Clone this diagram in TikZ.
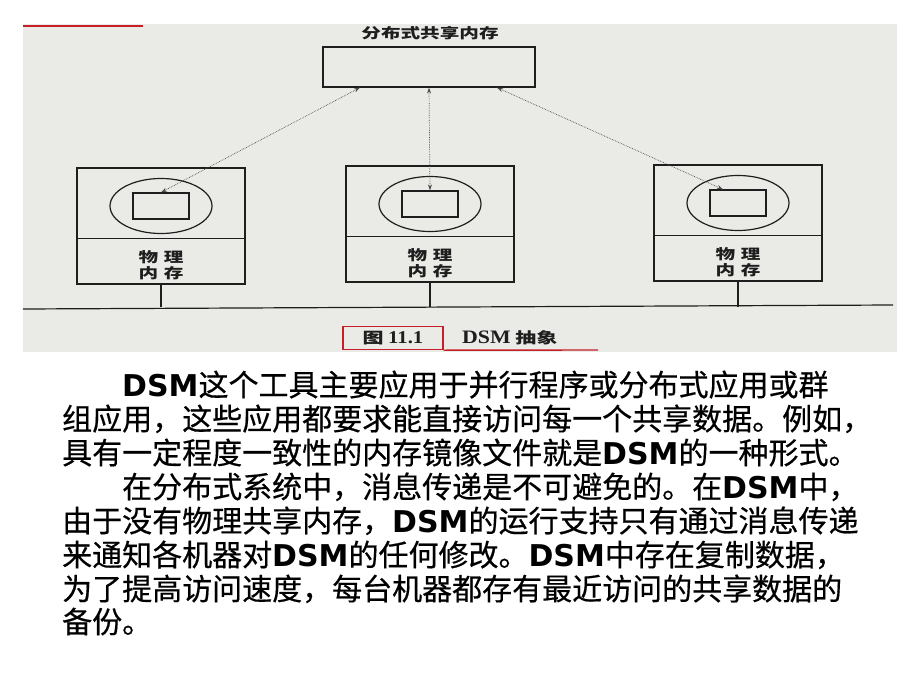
\documentclass[tikz,border=0pt]{standalone}
\usepackage{fontspec}
\setmainfont{Noto Sans CJK SC}
\newfontfamily\bodyfont{Noto Sans CJK SC}[FakeBold=0.5]
\newfontfamily\figfont{Noto Sans CJK SC}[FakeStretch=1.4]
\newfontfamily\figserif{Liberation Serif}[FakeStretch=1.15]
\newfontfamily\dsmfont{DejaVu Sans}
\usetikzlibrary{arrows.meta,shapes.geometric,positioning}
\definecolor{scan}{RGB}{234,235,231}
\definecolor{ink}{RGB}{30,30,30}
\definecolor{redpen}{RGB}{200,30,40}
\newcommand{\dsmword}{{\dsmfont\bfseries DSM}}
\tikzset{
  machine/.style={draw=ink, line width=1.2pt, minimum width=168pt, minimum height=116pt, inner sep=0pt},
  ring/.style={draw=ink, line width=1.2pt, ellipse, minimum width=102pt, minimum height=55pt, inner sep=0pt},
  slot/.style={draw=ink, line width=1.2pt, minimum width=56pt, minimum height=26pt, inner sep=0pt},
  link/.style={densely dotted, gray!60!black, line width=0.7pt,
               {Stealth[length=6pt,width=4pt]}-{Stealth[length=6pt,width=4pt]}},
  memtext/.style={font=\figfont\bfseries\fontsize{14}{15.5}\selectfont, text=ink, align=center, inner sep=0pt},
  bodyline/.style={anchor=base west, inner sep=0pt, font=\bodyfont\fontsize{30}{30}\selectfont},
}
\begin{document}
\begin{tikzpicture}[x=1pt, y=-1pt]
  \useasboundingbox (0,0) rectangle (920,690);
  \fill[white] (0,0) rectangle (920,690);
  % scanned figure
  \fill[scan] (23,24) rectangle (897,352);
  \draw[redpen, line width=1.4pt] (23,26) -- (143,26);
  \node[memtext, font=\figfont\bfseries\fontsize{14}{15}\selectfont] (title) at (430,33) {分布式共享内存};
  \node[draw=ink, line width=1.2pt, minimum width=212pt, minimum height=40pt] (dsm) at (429,67) {};
  % machines
  \foreach \mx/\my/\n in {161/168/a, 430/166/b, 738/165/c} {
    \node[machine] (box\n) at (\mx,\my+58) {};
    \draw[ink, line width=1.2pt] ([yshift=-71pt]box\n.north west) -- ([yshift=-71pt]box\n.north east);
    \node[ring] (ring\n) at (\mx,\my+38) {};
    \node[slot] (slot\n) at (ring\n) {};
    \node[memtext] (mem\n) at (\mx,\my+97) {物\hspace{0.4em}理\\内\hspace{0.4em}存};
    \draw[ink, line width=1.2pt] (box\n.south) -- (box\n.south |- 0,307);
  }
  \draw[ink, line width=1.2pt] (23,309) -- (893,305);
  % links to the shared memory
  \draw[link] ([xshift=-69pt]dsm.south) -- (slota.north);
  \draw[link] (dsm.south) -- (slotb.north);
  \draw[link] ([xshift=68pt]dsm.south) -- ([xshift=-15pt]slotc.north);
  % caption
  \node[memtext, draw=redpen, line width=1.4pt, minimum width=100pt, minimum height=23pt,
        font=\figfont\bfseries\fontsize{15}{15}\selectfont] (figno) at (393,338)
        {图\hspace{0.3em}{\figserif\bfseries\fontsize{18}{18}\selectfont 11.1}};
  \node[memtext, anchor=west, font=\figfont\bfseries\fontsize{15}{15}\selectfont] (figname) at (462,338)
        {{\figserif\bfseries\fontsize{19}{19}\selectfont DSM}\hspace{0.3em}抽象};
  \draw[redpen, line width=1.4pt] (figno.south east) -- (598,350);
  % text
  \node[bodyline] (line1) at (122,396) {\dsmword 这个工具主要应用于并行程序或分布式应用或群};
  \node[bodyline] (line2) at (62,430) {组应用，这些应用都要求能直接访问每一个共享数据。例如，};
  \node[bodyline] (line3) at (62,464) {具有一定程度一致性的内存镜像文件就是\dsmword 的一种形式。};
  \node[bodyline] (line4) at (122,498) {在分布式系统中，消息传递是不可避免的。在\dsmword 中，};
  \node[bodyline] (line5) at (62,532) {由于没有物理共享内存，\dsmword 的运行支持只有通过消息传递};
  \node[bodyline] (line6) at (62,566) {来通知各机器对\dsmword 的任何修改。\dsmword 中存在复制数据，};
  \node[bodyline] (line7) at (62,600) {为了提高访问速度，每台机器都存有最近访问的共享数据的};
  \node[bodyline] (line8) at (62,633) {备份。};
\end{tikzpicture}
\end{document}
